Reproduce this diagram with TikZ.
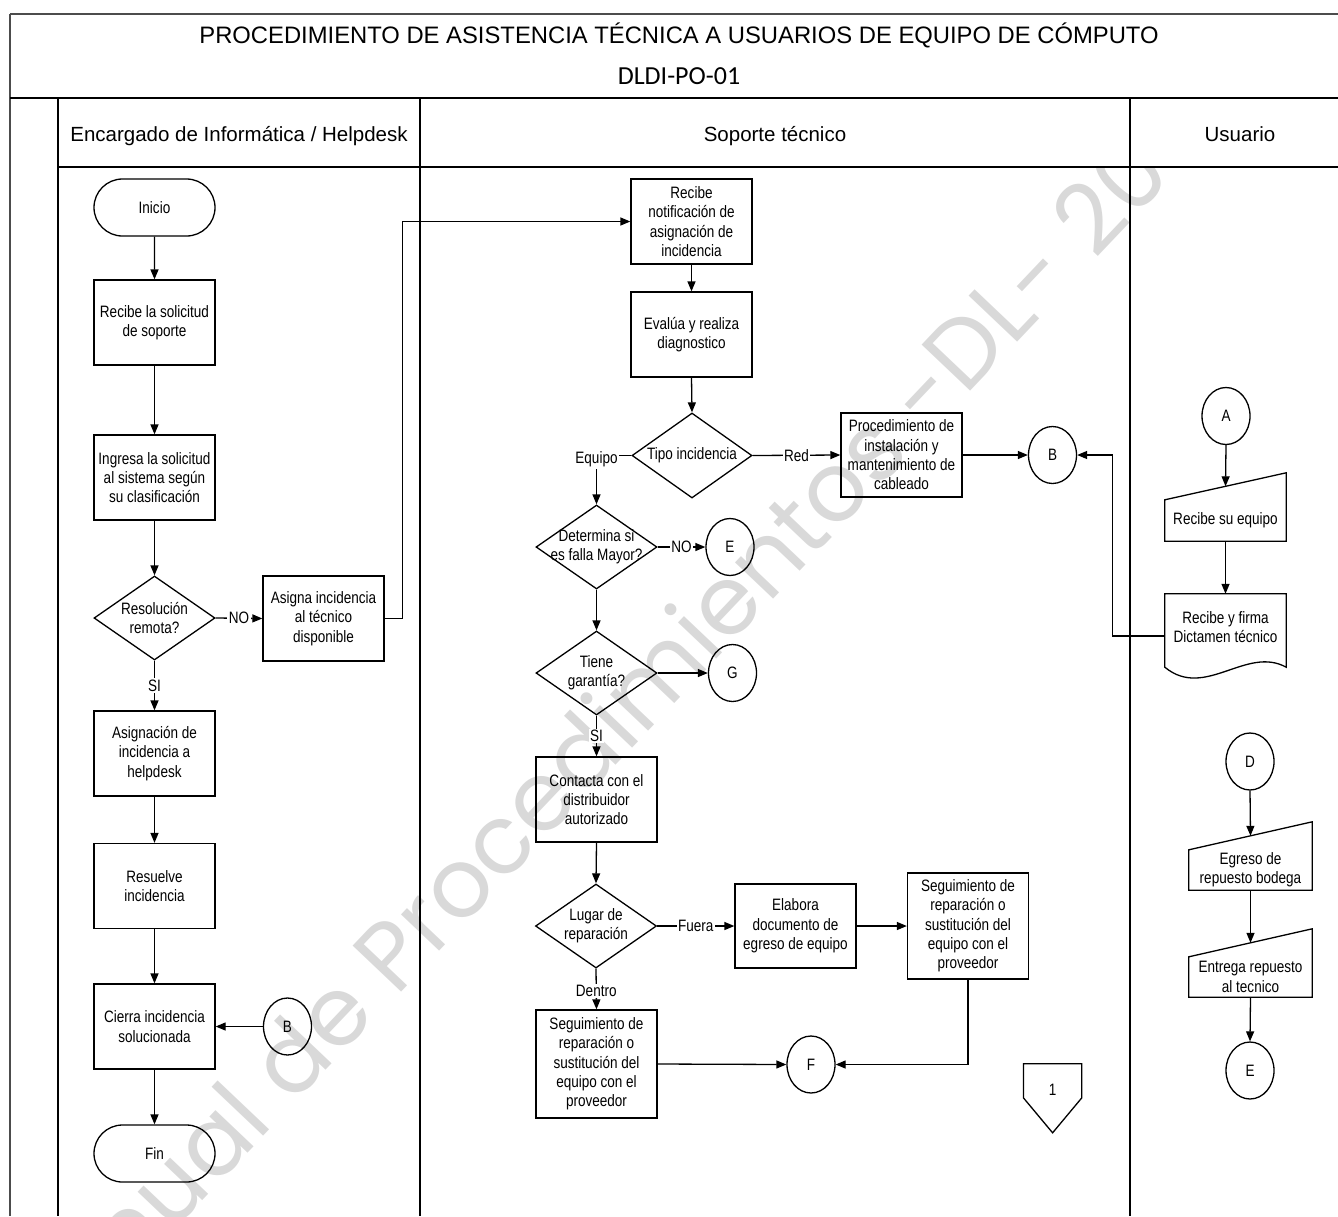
\documentclass[tikz,border=0pt]{standalone}
\usepackage{fontspec}
\setmainfont{Liberation Sans}
\newfontfamily\narrowfam{Liberation Sans}[FakeStretch=0.82]
\newfontfamily\codefam{Carlito}
\newfontfamily\wmfam{Poppins}
\usetikzlibrary{shapes.geometric,shapes.misc,arrows.meta,calc}
\newcommand\bxfont{\narrowfam\fontsize{16.5}{19.3}\selectfont}

\tikzset{
  base/.style={font=\bxfont, align=center, inner sep=0pt},
  proc/.style={base, draw, line width=1.3pt, rectangle, minimum width=121pt},
  term/.style={base, draw, line width=1.3pt, rounded rectangle, minimum width=121pt, minimum height=57pt},
  dec/.style={base, draw, line width=1.3pt, diamond, minimum width=121pt, minimum height=84pt},
  conn/.style={base, draw, line width=1.3pt, ellipse, minimum width=48pt, minimum height=57pt},
  shapebox/.style={base, rectangle},
  lbl/.style={base, fill=white, inner sep=1.5pt},
  flow/.style={line width=1.3pt, -{Triangle[length=10pt,width=8pt]}},
  plainline/.style={line width=1.3pt},
  lane/.style={line width=1.4pt},
}

\begin{document}
\begin{tikzpicture}[x=1pt, y=-1pt]
\useasboundingbox (0,0) rectangle (1338,1216);

% watermark behind the lanes
\begin{scope}
  \clip (58,167) rectangle (1338,1216);
  \node[rotate=46.5, anchor=base west, text=black!15, inner sep=0pt,
        font=\wmfam\fontsize{96}{96}\selectfont] (wm) at (28,1385)
        {Manual de Procedimientos -DL- 2019};
\end{scope}

% frame and swimlanes
\draw[lane, black!70] (10,14) -- (1350,14);
\draw[lane, black!70] (10,14) -- (10,1216);
\draw[lane] (10,98) -- (1350,98);
\draw[lane] (58,167) -- (1350,167);
\draw[lane] (58,98) -- (58,1216);
\draw[lane] (420,98) -- (420,1216);
\draw[lane] (1130,98) -- (1130,1216);

\node[anchor=base, inner sep=0pt, font=\fontsize{23.8}{28}\selectfont] (ttl) at (679,43)
  {PROCEDIMIENTO DE ASISTENCIA TÉCNICA A USUARIOS DE EQUIPO DE CÓMPUTO};
\node[anchor=base, inner sep=0pt, font=\codefam\fontsize{26}{30}\selectfont] (code) at (679,84) {DLDI-PO-01};

\node[anchor=base, inner sep=0pt, font=\fontsize{20.5}{24}\selectfont] (h1) at (239,141) {Encargado de Informática / Helpdesk};
\node[anchor=base, inner sep=0pt, font=\fontsize{20.5}{24}\selectfont] (h2) at (775,141) {Soporte técnico};
\node[anchor=base, inner sep=0pt, font=\fontsize{20.5}{24}\selectfont] (h3) at (1240,141) {Usuario};

% lane 1: Encargado de Informatica / Helpdesk
\node[term] (ini) at (154.5,207.5) {Inicio};
\node[proc, minimum height=85pt] (rec) at (154.5,322.5) {Recibe la solicitud\\de soporte};
\node[proc, minimum height=85pt] (ing) at (154.5,477.5) {Ingresa la solicitud\\al sistema según\\su clasificación};
\node[dec, label={[base]center:{Resolución\\remota?}}] (res) at (154.5,618) {};
\node[proc, minimum height=85pt] (asi) at (323.5,618.5) {Asigna incidencia\\al técnico\\disponible};
\node[proc, minimum height=85pt] (asg) at (154.5,753.5) {Asignación de\\incidencia a\\helpdesk};
\node[proc, minimum height=85pt] (rsu) at (154.5,886) {Resuelve\\incidencia};
\node[proc, minimum height=85pt] (cie) at (154.5,1026.5) {Cierra incidencia\\solucionada};
\node[conn] (bl) at (287.5,1026.5) {B};
\node[term] (fin) at (154.5,1153.5) {Fin};

% lane 2: Soporte tecnico
\node[proc, minimum height=85pt] (not) at (691.5,221.5) {Recibe\\notificación de\\asignación de\\incidencia};
\node[proc, minimum height=85pt] (eva) at (691.5,334.5) {Evalúa y realiza\\diagnostico};
\node[dec, minimum width=120pt, minimum height=85pt, label={[base]center:{Tipo incidencia}}] (tip) at (692,455.5) {};
\node[proc, minimum height=84pt] (pro) at (901.5,455) {Procedimiento de\\instalación y\\mantenimiento de\\cableado};
\node[conn] (br) at (1052.5,455) {B};
\node[dec, label={[base]center:{Determina si\\es falla Mayor?}}] (det) at (596.5,547) {};
\node[conn] (e1) at (730,547) {E};
\node[dec, label={[base]center:{Tiene\\garantía?}}] (gar) at (596.5,673) {};
\node[conn] (g) at (732.5,673) {G};
\node[proc, minimum height=85pt] (con) at (596.5,799.5) {Contacta con el\\distribuidor\\autorizado};
\node[dec, label={[base]center:{Lugar de\\reparación}}] (lug) at (596,926) {};
\node[proc, minimum height=84pt] (ela) at (795.5,926) {Elabora\\documento de\\egreso de equipo};
\node[proc, minimum height=106pt] (sg2) at (968,926) {Seguimiento de\\reparación o\\sustitución del\\equipo con el\\proveedor};
\node[proc, minimum height=108pt] (sg1) at (596.5,1064) {Seguimiento de\\reparación o\\sustitución del\\equipo con el\\proveedor};
\node[conn] (f) at (811,1064.5) {F};
\node[shapebox, minimum width=58pt, minimum height=52pt] (pg1) at (1052.6,1090) {1};
\draw[plainline] (pg1.north west) -- (pg1.north east) -- ($(pg1.north east)+(0,34)$)
  -- ($(pg1.north)+(0,69)$) -- ($(pg1.north west)+(0,34)$) -- cycle;

% lane 3: Usuario
\node[conn] (a) at (1226,416) {A};
\node[shapebox, minimum width=121pt, minimum height=41pt] (rse) at (1225.5,520.5) {Recibe su equipo};
\draw[plainline] (rse.south west) -- (rse.south east) -- ($(rse.north east)+(0,-27)$) -- (rse.north west) -- cycle;
\node[shapebox, minimum width=121pt, minimum height=66pt] (dic) at (1225.5,627) {Recibe y firma\\Dictamen técnico};
\draw[plainline] (dic.north west) -- (dic.north east) -- ($(dic.south east)+(0,7)$)
  .. controls ($(dic.south east)+(-40,-15)$) and ($(dic.south west)+(40,40)$) .. ($(dic.south west)+(0,7)$) -- cycle;
\node[conn] (d) at (1250,761.5) {D};
\node[shapebox, minimum width=123pt, minimum height=40pt] (egr) at (1250.5,870) {Egreso de\\repuesto bodega};
\draw[plainline] (egr.south west) -- (egr.south east) -- ($(egr.north east)+(0,-28)$) -- (egr.north west) -- cycle;
\node[shapebox, minimum width=123pt, minimum height=40pt] (ent) at (1250.5,977) {Entrega repuesto\\al tecnico};
\draw[plainline] (ent.south west) -- (ent.south east) -- ($(ent.north east)+(0,-28)$) -- (ent.north west) -- cycle;
\node[conn] (e2) at (1250,1070.5) {E};

% connectors, lane 1
\draw[flow] (ini) -- (rec);
\draw[flow] (rec) -- (ing);
\draw[flow] (ing) -- (res);
\draw[flow] (res.east) -- node[lbl] {NO} (asi.west);
\draw[flow] (res.south) -- node[lbl] {SI} (asg.north);
\draw[flow] (asg) -- (rsu);
\draw[flow] (rsu) -- (cie);
\draw[flow] (bl.west) -- (cie.east);
\draw[flow] (cie) -- (fin);
\draw[flow] (asi.east) -- ++(18,0) |- (not.west);

% connectors, lane 2
\draw[flow] (not) -- (eva);
\draw[flow] (eva.south) -- (tip.north);
\draw[flow] (tip.east) -- node[lbl] {Red} (pro.west);
\draw[flow] (tip.west) -| node[lbl, pos=0.5, yshift=-4pt] {Equipo} (det.north);
\draw[flow] (det.east) -- node[lbl] {NO} (e1.west);
\draw[flow] (det.south) -- (gar.north);
\draw[flow] (gar.east) -- (g.west);
\draw[flow] (gar.south) -- node[lbl] {SI} (con.north);
\draw[flow] (con.south) -- (lug.north);
\draw[flow] (lug.east) -- node[lbl] {Fuera} (ela.west);
\draw[flow] (ela.east) -- (sg2.west);
\draw[flow] (lug.south) -- node[lbl, pos=0.55] {Dentro} (sg1.north);
\draw[flow] (sg1.east) -- (f.west);
\draw[flow] (sg2.south) |- (f.east);
\draw[flow] (pro.east) -- (br.west);

% connectors, lane 3
\draw[flow] (a.south) -- ($(rse.north)+(0,-13.5)$);
\draw[flow] (rse.south) -- (dic.north);
\draw[flow] ($(dic.west)+(0,9)$) -- ++(-52,0) |- (br.east);
\draw[flow] (d.south) -- ($(egr.north)+(0,-14)$);
\draw[flow] (egr.south) -- ($(ent.north)+(0,-14)$);
\draw[flow] (ent.south) -- (e2.north);
\end{tikzpicture}
\end{document}
